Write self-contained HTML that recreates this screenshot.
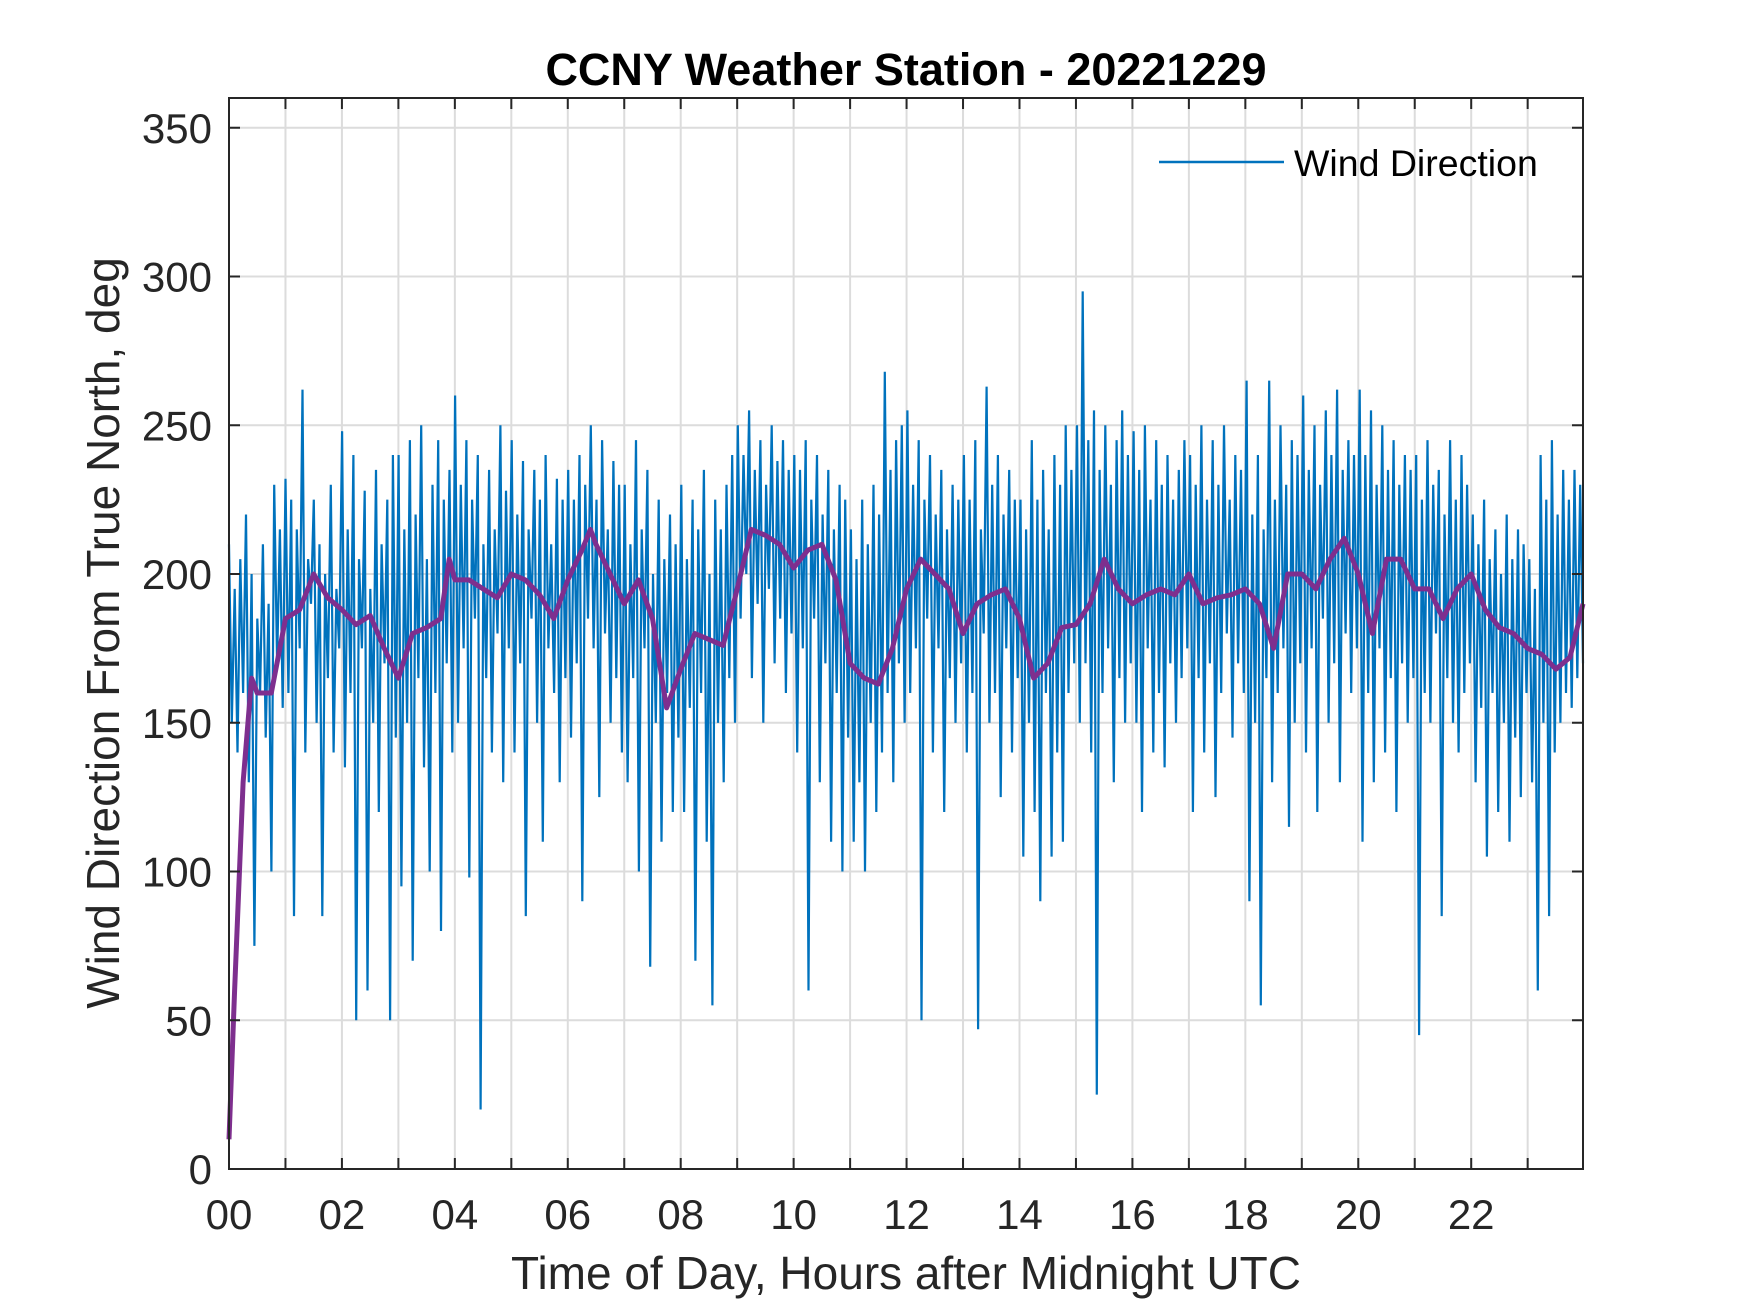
<!DOCTYPE html>
<html><head><meta charset="utf-8"><style>
html,body{margin:0;padding:0;background:#fff;}
svg{display:block;font-family:"Liberation Sans",Arial,sans-serif;}
</style></head>
<body>
<svg id="chart" width="1750" height="1313" viewBox="0 0 1750 1313" xmlns="http://www.w3.org/2000/svg">
<rect width="1750" height="1313" fill="#fff"/>
<g id="grid"></g>
<g id="raw"></g>
<g id="avg"></g>
<g id="axes"></g>
<text x="906" y="85" text-anchor="middle" font-size="45" font-weight="bold" fill="#000">CCNY Weather Station - 20221229</text>
<text x="906" y="1289" text-anchor="middle" font-size="46" fill="#262626">Time of Day, Hours after Midnight UTC</text>
<text transform="translate(119,633) rotate(-90)" text-anchor="middle" font-size="46" fill="#262626">Wind Direction From True North, deg</text>
<g>
<line x1="1159" y1="162" x2="1284" y2="162" stroke="#0072BD" stroke-width="2.5"/>
<text x="1294" y="176" font-size="37.5" fill="#000">Wind Direction</text>
</g>
</svg>
<script>
const xTicks = [0,2,4,6,8,10,12,14,16,18,20,22];
const xTickLabels = ["00","02","04","06","08","10","12","14","16","18","20","22"];
const yTicks = [0,50,100,150,200,250,300,350];
const rawValues = [
210,150,195,140,205,160,220,130,200,75,185,160,210,145,190,100,230,170,215,155,
232,160,225,85,215,175,262,140,205,190,225,150,210,85,200,165,230,140,195,175,
248,135,215,160,240,50,205,175,228,60,195,150,235,120,210,170,225,50,240,145,
240,95,215,150,245,70,220,165,250,135,205,100,230,160,245,80,225,170,235,140,
260,150,230,175,245,98,225,185,240,20,210,165,235,140,215,180,250,130,228,175,
245,140,220,170,238,85,215,185,235,150,225,110,240,175,210,160,232,130,225,165,
235,145,225,170,240,90,230,185,250,175,225,125,245,180,215,150,238,165,230,140,
230,130,210,165,245,100,215,175,235,68,200,150,225,110,205,160,220,120,210,145,
230,120,205,155,225,70,215,160,235,110,200,55,225,150,215,130,230,165,240,150,
250,185,240,200,255,165,235,190,245,150,230,195,250,170,238,185,245,160,235,180,
240,140,235,175,245,60,225,185,240,130,220,170,235,110,215,160,230,100,225,145,
215,110,205,130,225,100,210,150,230,120,220,140,268,160,235,130,245,170,250,150,
255,160,230,175,245,50,225,185,240,140,220,175,235,120,215,165,230,150,225,170,
240,140,225,160,245,47,215,180,263,150,230,160,240,125,220,175,235,140,225,165,
225,105,215,150,245,120,225,90,235,160,215,105,240,140,230,110,250,160,235,170,
250,150,295,170,245,140,255,25,235,160,250,175,230,130,245,165,255,150,240,170,
248,150,235,120,250,175,225,140,245,160,230,135,240,170,225,150,235,165,245,175,
240,120,230,165,250,140,225,170,245,125,230,160,250,180,225,145,240,170,235,160,
265,90,220,150,240,55,215,165,265,130,225,160,250,175,230,115,245,150,240,170,
260,140,235,175,250,120,230,185,255,150,240,170,262,130,235,180,245,160,240,175,
262,110,240,160,255,130,230,175,250,140,235,165,245,120,230,170,240,150,235,165,
240,45,225,160,245,150,230,180,235,85,220,165,245,150,225,140,240,160,230,170,
220,130,210,155,225,105,205,160,215,120,200,150,220,110,205,145,215,125,210,160,
205,130,195,60,240,150,225,85,245,140,220,150,235,160,225,155,235,165,230,170
];
const avgHours = [0,0.1,0.25,0.4,0.5,0.75,1,1.25,1.5,1.75,2,2.25,2.5,2.75,3,3.25,3.5,3.75,3.9,4,4.25,4.5,4.75,5,5.25,5.5,5.75,6,6.25,6.4,6.5,6.75,7,7.25,7.5,7.75,8,8.25,8.5,8.75,9,9.25,9.5,9.75,10,10.25,10.5,10.75,11,11.25,11.5,11.75,12,12.25,12.5,12.75,13,13.25,13.5,13.75,14,14.25,14.5,14.75,15,15.25,15.5,15.75,16,16.25,16.5,16.75,17,17.25,17.5,17.75,18,18.25,18.5,18.75,19,19.25,19.5,19.75,20,20.25,20.5,20.75,21,21.25,21.5,21.75,22,22.25,22.5,22.75,23,23.25,23.5,23.75,23.98];
const avgValues = [10,60,130,165,160,160,185,188,200,192,188,183,186,175,165,180,182,185,205,198,198,195,192,200,198,193,185,198,208,215,210,200,190,198,185,155,168,180,178,176,195,215,213,210,202,208,210,198,170,165,163,175,195,205,200,195,180,190,193,195,185,165,170,182,183,190,205,195,190,193,195,193,200,190,192,193,195,190,175,200,200,195,205,212,200,180,205,205,195,195,185,195,200,188,182,180,175,173,168,172,190];

const L=229,R=1583,T=98,B=1169,XMAX=23.98,YMAX=360;
const sx=h=>L+h/XMAX*(R-L);
const sy=v=>B-v/YMAX*(B-T);
const NS="http://www.w3.org/2000/svg";
function mk(tag,attrs,parent){const e=document.createElementNS(NS,tag);for(const k in attrs)e.setAttribute(k,attrs[k]);parent.appendChild(e);return e;}
const grid=document.getElementById('grid'),axes=document.getElementById('axes');
for(let h=0;h<24;h++){
  const g=mk('line',{x1:sx(h),x2:sx(h),y1:T,y2:B,stroke:'#dcdcdc','stroke-width':2},grid);
  
  
  const t1=mk('line',{x1:sx(h),x2:sx(h),y1:B,y2:B-11,stroke:'#262626','stroke-width':2},axes);
  
  
  const t2=mk('line',{x1:sx(h),x2:sx(h),y1:T,y2:T+11,stroke:'#262626','stroke-width':2},axes);
  
  
}
xTicks.forEach((h,i)=>{
  const t=mk('text',{x:sx(h),y:1229,'text-anchor':'middle','font-size':42,fill:'#262626'},axes);
  t.textContent=xTickLabels[i];
  
  
});
yTicks.forEach(v=>{
  const g=mk('line',{x1:L,x2:R,y1:sy(v),y2:sy(v),stroke:'#dcdcdc','stroke-width':2},grid);
  
  
  const a=mk('line',{x1:L,x2:L+11,y1:sy(v),y2:sy(v),stroke:'#262626','stroke-width':2},axes);
  
  
  const b=mk('line',{x1:R,x2:R-11,y1:sy(v),y2:sy(v),stroke:'#262626','stroke-width':2},axes);
  
  
  const t=mk('text',{x:212,y:sy(v)+15,'text-anchor':'end','font-size':42,fill:'#262626'},axes);
  t.textContent=String(v);
  
  
});
const box=mk('rect',{x:L,y:T,width:R-L,height:B-T,fill:'none',stroke:'#262626','stroke-width':2},axes);



const n=rawValues.length;
const rp=rawValues.map((v,i)=>sx(i*XMAX/(n-1)).toFixed(1)+','+sy(v).toFixed(1)).join(' ');
const raw=mk('polyline',{points:rp,fill:'none',stroke:'#0072BD','stroke-width':2.2,'stroke-linejoin':'miter'},document.getElementById('raw'));


const ap=avgValues.map((v,i)=>sx(avgHours[i]).toFixed(1)+','+sy(v).toFixed(1)).join(' ');
const avg=mk('polyline',{points:ap,fill:'none',stroke:'#7E2F8E','stroke-width':5,'stroke-linejoin':'round'},document.getElementById('avg'));


</script>
</body></html>
